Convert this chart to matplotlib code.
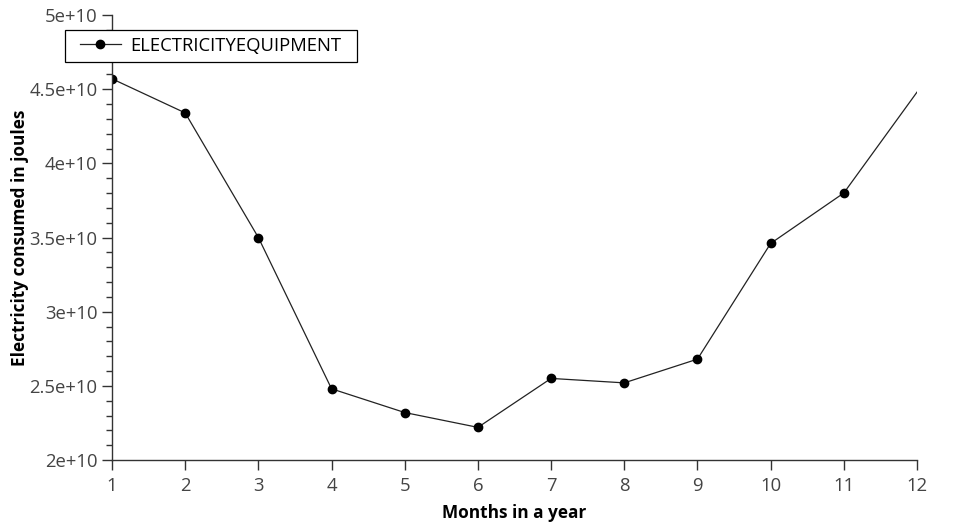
import matplotlib
matplotlib.use('Agg')
import matplotlib.pyplot as plt
from matplotlib.patches import Rectangle
from matplotlib.ticker import MultipleLocator

months = [1, 2, 3, 4, 5, 6, 7, 8, 9, 10, 11, 12]
energy = [4.57e10, 4.34e10, 3.50e10, 2.48e10, 2.32e10, 2.22e10,
          2.55e10, 2.52e10, 2.68e10, 3.46e10, 3.80e10, 4.48e10]

plt.rcParams['font.family'] = ['Open Sans', 'DejaVu Sans']

fig = plt.figure(figsize=(9.8, 5.32), dpi=100)
ax = fig.add_axes([112/980, 72/532, 805/980, 445/532])

ax.plot(months, energy, color='#222222', linewidth=0.9, marker='o',
        markersize=6, markerfacecolor='black', markeredgecolor='black',
        markevery=list(range(len(months) - 1)), label='ELECTRICITYEQUIPMENT')

ax.set_xlim(1, 12)
ax.set_ylim(2e10, 5e10)
ax.set_xticks(months)
ax.yaxis.set_major_locator(MultipleLocator(0.5e10))
ax.yaxis.set_minor_locator(MultipleLocator(0.1e10))
ax.set_yticklabels([f'{v/1e10:g}e+10' for v in ax.get_yticks()])

for s in ['top', 'right']:
    ax.spines[s].set_visible(False)
for s in ['left', 'bottom']:
    ax.spines[s].set_color('#333333')
    ax.spines[s].set_linewidth(1)

ax.tick_params(axis='both', which='major', direction='out', length=7,
               width=1, color='#333333', labelsize=13.3, labelcolor='#444444')
ax.tick_params(axis='x', which='major', pad=5)
ax.tick_params(axis='y', which='minor', direction='out', length=4,
               width=1, color='#333333')

ax.set_xlabel('Months in a year', fontsize=12.4, fontweight='bold', labelpad=7)
ax.set_ylabel('Electricity consumed in joules', fontsize=12.4, fontweight='bold', labelpad=0)

# legend box drawn separately so the padding can match
fig.patches.append(Rectangle((65/980, 1 - 62/532), 292/980, 32/532,
                             transform=fig.transFigure, facecolor='white',
                             edgecolor='black', linewidth=0.9, zorder=5))
fig.legend(loc='upper left', bbox_to_anchor=(80/980, 1 - 36.5/532),
           borderaxespad=0, borderpad=0, frameon=False, fontsize=13.3,
           handlelength=2.2, handletextpad=0.54)

fig.savefig('out.png', dpi=100)
